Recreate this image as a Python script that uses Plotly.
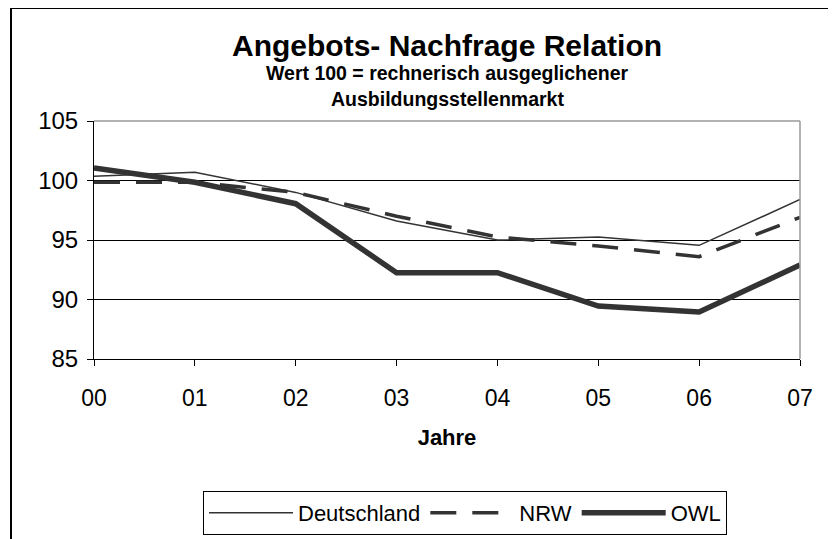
import plotly.graph_objects as go

years = ["00", "01", "02", "03", "04", "05", "06", "07"]
deutschland = [100.35, 100.7, 99.0, 96.6, 95.0, 95.25, 94.55, 98.4]
nrw = [99.85, 99.85, 99.0, 97.0, 95.25, 94.5, 93.6, 96.9]
owl = [101.05, 99.85, 98.05, 92.25, 92.25, 89.45, 88.95, 92.9]

FONT = "Liberation Sans, Arial, sans-serif"
LC = "#333333"

# page has an 8px body margin; work in window coordinates and shift
OFF = 8
W, H = 836 - OFF, 539 - OFF
L, R, T, B = 94 - OFF, 800 - OFF, 121 - OFF, 359 - OFF
pw, ph = R - L, B - T


def px(x):
    return (x - OFF - L) / pw


def py(y):
    return (B - (y - OFF)) / ph


fig = go.Figure()
fig.add_trace(go.Scatter(x=years, y=deutschland, name="Deutschland", mode="lines",
                         line=dict(color=LC, width=1.5)))
fig.add_trace(go.Scatter(x=years, y=nrw, name="NRW", mode="lines",
                         line=dict(color=LC, width=3.5, dash="26px,16px")))
fig.add_trace(go.Scatter(x=years, y=owl, name="OWL", mode="lines",
                         line=dict(color=LC, width=5.5)))

fig.update_layout(
    width=W, height=H,
    margin=dict(l=L, r=W - R, t=T, b=H - B, autoexpand=False),
    paper_bgcolor="white", plot_bgcolor="white",
    font=dict(family=FONT, color="black", size=22),
    showlegend=True,
    legend=dict(orientation="h", x=px(465), xanchor="center", y=py(491), yanchor="top",
                bordercolor="black", borderwidth=1, font=dict(size=22),
                itemwidth=84, tracegroupgap=0, bgcolor="white"),
    xaxis=dict(type="category", range=[0, 7], showgrid=False, showline=True,
               linecolor="black", linewidth=1, ticks="outside", ticklen=6,
               tickcolor="black", tickfont=dict(size=23), zeroline=False,
               ticklabelstandoff=12,
               title=dict(text="<b>Jahre</b>", font=dict(size=22), standoff=20)),
    yaxis=dict(range=[85, 105], dtick=5, showgrid=True, gridcolor="black", gridwidth=1,
               showline=True, linecolor="black", linewidth=1, ticks="outside",
               ticklen=6, tickcolor="black", tickfont=dict(size=24), zeroline=False,
               ticklabelstandoff=4),
    shapes=[
        dict(type="line", xref="paper", yref="paper", x0=0, x1=1, y0=1, y1=1,
             line=dict(color="#999999", width=1.5), layer="above"),
        dict(type="line", xref="paper", yref="paper", x0=1, x1=1, y0=0, y1=1,
             line=dict(color="#999999", width=1.5), layer="above"),
        dict(type="line", xref="paper", yref="paper", x0=px(11), x1=px(840), y0=py(8), y1=py(8),
             line=dict(color="black", width=2)),
        dict(type="line", xref="paper", yref="paper", x0=px(11), x1=px(11), y0=py(8), y1=py(545),
             line=dict(color="black", width=2)),
    ],
    annotations=[
        dict(text="<b>Angebots- Nachfrage Relation</b>", xref="paper", yref="paper",
             x=px(447), y=py(45), xanchor="center", yanchor="middle", showarrow=False,
             font=dict(size=30)),
        dict(text="<b>Wert 100 = rechnerisch ausgeglichener</b>", xref="paper", yref="paper",
             x=px(447), y=py(73), xanchor="center", yanchor="middle", showarrow=False,
             font=dict(size=19.5)),
        dict(text="<b>Ausbildungsstellenmarkt</b>", xref="paper", yref="paper",
             x=px(447), y=py(99), xanchor="center", yanchor="middle", showarrow=False,
             font=dict(size=19.5)),
    ],
)

fig.write_html("out.html")
